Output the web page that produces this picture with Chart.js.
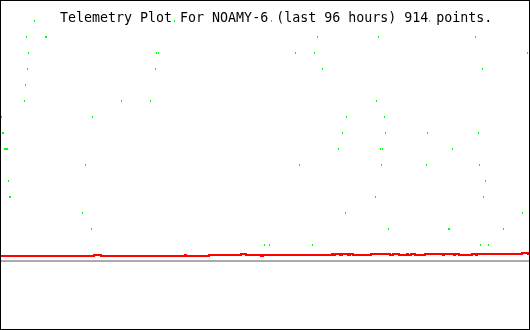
<!DOCTYPE html>
<html>
<head>
<meta charset="utf-8">
<script src="https://cdn.jsdelivr.net/npm/chart.js@4"></script>
<style>
    body { margin: 0; background: #fff; }
    #frame { width: 530px; height: 330px; box-sizing: border-box; border: 1px solid #000; background: #fff; }
    canvas { display: block; }
</style>
</head>
<body>
<div id="frame"><canvas id="plot" width="528" height="328"></canvas></div>
<script>
const titleText = 'Telemetry Plot For NOAMY-6 (last 96 hours) 914 points.';

// axis ranges (hours, reading units)
const hourRange = [0, 96];
const valueRange = [-4.25, 16.25];

// zero reference line
const baseHours = [0, 96];
const baseValues = [0, 0];

// green channel: sparse discrete readings
const greenHours = [
    6.09, 17.91, 31.55, 49.18, 77.91,
    4.64, 8.09, 8.27, 57.55, 68.64, 86.27,
    5.0, 28.27, 28.64, 53.55, 57.0, 95.73,
    4.82, 28.09, 58.45, 87.55,
    4.45,
    4.27, 21.91, 27.18, 68.27,
    0.09, 16.64, 62.82, 69.73,
    0.27, 0.45, 62.09, 69.91, 77.55, 86.82,
    0.64, 0.82, 1.0, 1.18, 61.36, 69.0, 69.36, 82.09,
    15.36, 54.27, 69.18, 77.36, 87.0,
    1.36, 88.09,
    1.55, 1.73, 68.09, 87.73,
    14.82, 62.64, 94.82,
    16.45, 70.45, 81.36, 81.55, 91.36,
    47.91, 48.82, 56.64, 87.18, 88.64,
];
const greenLevels = [
    15, 15, 15, 15, 15,
    14, 14, 14, 14, 14, 14,
    13, 13, 13, 13, 13, 13,
    12, 12, 12, 12,
    11,
    10, 10, 10, 10,
    9, 9, 9, 9,
    8, 8, 8, 8, 8, 8,
    7, 7, 7, 7, 7, 7, 7, 7,
    6, 6, 6, 6, 6,
    5, 5,
    4, 4, 4, 4,
    3, 3, 3,
    2, 2, 2, 2, 2,
    1, 1, 1, 1, 1,
];

// red channel: near-constant reading, step changes
const redHours = [
    0, 16.91, 18.18, 33.45, 33.64, 37.82, 43.64, 44.55, 47.27, 47.64,
    60.18, 60.36, 60.73, 61.64, 62.0, 63.09, 63.45, 64.0, 67.27, 70.73,
    71.27, 72.36, 73.82, 74.0, 74.55, 75.27, 77.09, 80.36, 80.55, 82.36,
    82.55, 83.27, 85.64, 86.36, 86.55, 94.73, 95.82, 96,
];
const redValues = [
    0.3125, 0.375, 0.3125, 0.375, 0.3125, 0.375, 0.4375, 0.375, 0.3125, 0.375,
    0.4375, 0.375, 0.4375, 0.375, 0.4375, 0.375, 0.4375, 0.375, 0.4375, 0.375,
    0.4375, 0.375, 0.4375, 0.375, 0.4375, 0.375, 0.4375, 0.375, 0.4375, 0.375,
    0.4375, 0.375, 0.4375, 0.375, 0.4375, 0.5, 0.4375, 0.4375,
];

const toPoints = (xs, ys) => xs.map((x, i) => ({ x, y: ys[i] }));

// 1x2 pixel marker like the original plot
const dot = document.createElement('canvas');
dot.width = 1;
dot.height = 2;
const dotCtx = dot.getContext('2d');
dotCtx.fillStyle = '#00ff00';
dotCtx.fillRect(0, 0, 1, 2);

const titlePlugin = {
    id: 'plotTitle',
    beforeDatasetsDraw(chart) {
        const { ctx } = chart;
        ctx.save();
        ctx.font = '13.3px "DejaVu Sans Mono", monospace';
        ctx.fillStyle = '#000';
        ctx.textBaseline = 'alphabetic';
        ctx.fillText(titleText, 59, 21);
        ctx.restore();
        ctx.imageSmoothingEnabled = false;
    },
};

new Chart(document.getElementById('plot'), {
    type: 'scatter',
    data: {
        datasets: [
            {
                data: toPoints(greenHours, greenLevels),
                pointStyle: dot,
                pointRadius: 1,
                showLine: false,
            },
            {
                data: toPoints(redHours, redValues),
                showLine: true,
                stepped: true,
                borderColor: '#ff0000',
                borderWidth: 2,
                pointRadius: 0,
            },
            {
                data: toPoints(baseHours, baseValues),
                showLine: true,
                borderColor: '#aaaaaa',
                borderWidth: 2,
                pointRadius: 0,
            },
        ],
    },
    options: {
        responsive: false,
        animation: false,
        events: [],
        layout: { padding: 0, autoPadding: false },
        plugins: {
            legend: { display: false },
            tooltip: { enabled: false },
            title: { display: false },
        },
        scales: {
            x: { type: 'linear', min: hourRange[0], max: hourRange[1], display: false },
            y: { type: 'linear', min: valueRange[0], max: valueRange[1], display: false },
        },
    },
    plugins: [titlePlugin],
});
</script>
</body>
</html>
